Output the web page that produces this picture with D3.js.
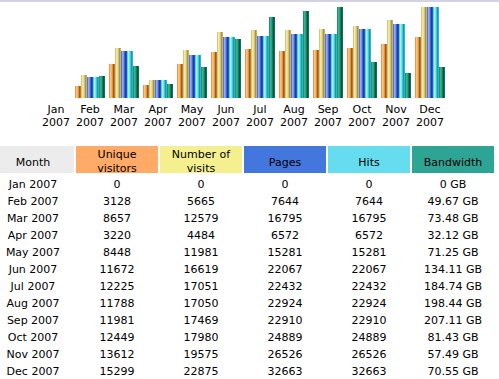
<!DOCTYPE html>
<html><head><meta charset="utf-8">
<script src="https://cdn.jsdelivr.net/npm/d3@7/dist/d3.min.js"></script>
<style>
html,body{margin:0;padding:0;background:#fff;}
svg{display:block;font-family:"DejaVu Sans",Verdana,sans-serif;font-size:11px;}
</style></head><body>
<svg id="c" width="499" height="379"></svg>
<script>
const months = ["Jan","Feb","Mar","Apr","May","Jun","Jul","Aug","Sep","Oct","Nov","Dec"];
const year = "2007";
const uniqueVisitors = [0,3128,8657,3220,8448,11672,12225,11788,11981,12449,13612,15299];
const visits = [0,5665,12579,4484,11981,16619,17051,17050,17469,17980,19575,22875];
const pages = [0,7644,16795,6572,15281,22067,22432,22924,22910,24889,26526,32663];
const hits = [0,7644,16795,6572,15281,22067,22432,22924,22910,24889,26526,32663];
const bandwidth = [0,49.67,73.48,32.12,71.25,134.11,184.74,198.44,207.11,81.43,57.49,70.55];
const columns = ["Month","Unique visitors","Number of visits","Pages","Hits","Bandwidth"];
const headerLines = [["Month"],["Unique","visitors"],["Number of","visits"],["Pages"],["Hits"],["Bandwidth"]];

(function(){
const svg = d3.select("#c");
const headerColors = ["#ececec","#ffaa66","#f4f090","#4477dd","#66ddee","#2ea495"];
const barPixels = [
  ["#e59a4c","#f7c488","#f2b571","#e3923c","#a55a12","#c3762c"],
  ["#d6c67a","#f2e8b2","#e9dc98","#d2c272","#a89a3c","#c2b262"],
  ["#5575dc","#93abf8","#7592f0","#4464d2","#1f389e","#3352c2"],
  ["#52d0e0","#a4f2f8","#74e8f0","#40c8d8","#0f9eae","#2eb6c6"],
  ["#1f9070","#40b090","#2fa080","#108060","#005c3e","#0e7050"]
];
const defs = svg.append("defs");
barPixels.forEach((px,i)=>{
  const g = defs.append("linearGradient").attr("id","g"+i).attr("x1",0).attr("x2",1).attr("y1",0).attr("y2",0);
  px.forEach((c,j)=>{
    g.append("stop").attr("offset",j/px.length).attr("stop-color",c);
    g.append("stop").attr("offset",(j+1)/px.length).attr("stop-color",c);
  });
});

svg.append("rect").attr("x",0).attr("y",0).attr("width",499).attr("height",2).attr("fill","#d2d2e4");

const x = d3.scaleBand().domain(months).range([39,447]).paddingInner(4/34).paddingOuter(2/34);
const series = ["u","v","p","h","k"];
const xs = d3.scaleBand().domain(series).range([0,x.bandwidth()]);
const base = 98, yTop = 7;
const yVis = d3.scaleLinear().domain([0,d3.max(visits)]).range([base,yTop]);
const yHit = d3.scaleLinear().domain([0,d3.max(hits)]).range([base,yTop]);
const yBw = d3.scaleLinear().domain([0,d3.max(bandwidth)]).range([base,yTop]);
const sdata = [[uniqueVisitors,yVis],[visits,yVis],[pages,yHit],[hits,yHit],[bandwidth,yBw]];
months.forEach((m,i)=>{
  sdata.forEach(([arr,sc],k)=>{
    const v = arr[i];
    if(v<=0) return;
    const yy = Math.round(sc(v));
    svg.append("rect").attr("x",x(m)+xs(series[k])).attr("y",yy)
      .attr("width",xs.bandwidth()).attr("height",base-yy).attr("fill","url(#g"+k+")");
  });
  const mx = x(m)+x.bandwidth()/2;
  svg.append("text").attr("x",mx).attr("y",113).attr("text-anchor","middle").attr("fill","#000").text(m);
  svg.append("text").attr("x",mx).attr("y",126).attr("text-anchor","middle").attr("fill","#000").text(year);
});

const colX = d3.scaleBand().domain(columns).range([-8,494]).paddingInner(2/84).paddingOuter(0);
columns.forEach((c,i)=>{
  svg.append("rect").attr("x",colX(c)).attr("y",146).attr("width",colX.bandwidth()).attr("height",27).attr("fill",headerColors[i]);
  const lines = headerLines[i];
  const mid = colX(c)+colX.bandwidth()/2;
  if(lines.length===1){
    svg.append("text").attr("x",mid).attr("y",165.5).attr("text-anchor","middle").attr("fill","#000").text(lines[0]);
  } else {
    svg.append("text").attr("x",mid).attr("y",158).attr("text-anchor","middle").attr("fill","#000").text(lines[0]);
    svg.append("text").attr("x",mid).attr("y",171.5).attr("text-anchor","middle").attr("fill","#000").text(lines[1]);
  }
});
const ry = d3.scalePoint().domain(months).range([188,375]);
months.forEach((m,i)=>{
  const vals = [m+" "+year, uniqueVisitors[i], visits[i], pages[i], hits[i], bandwidth[i]+" GB"];
  vals.forEach((v,j)=>{
    svg.append("text").attr("x",colX(columns[j])+colX.bandwidth()/2).attr("y",ry(m))
      .attr("text-anchor","middle").attr("fill","#000").text(v);
  });
});
})();
</script>
</body></html>
